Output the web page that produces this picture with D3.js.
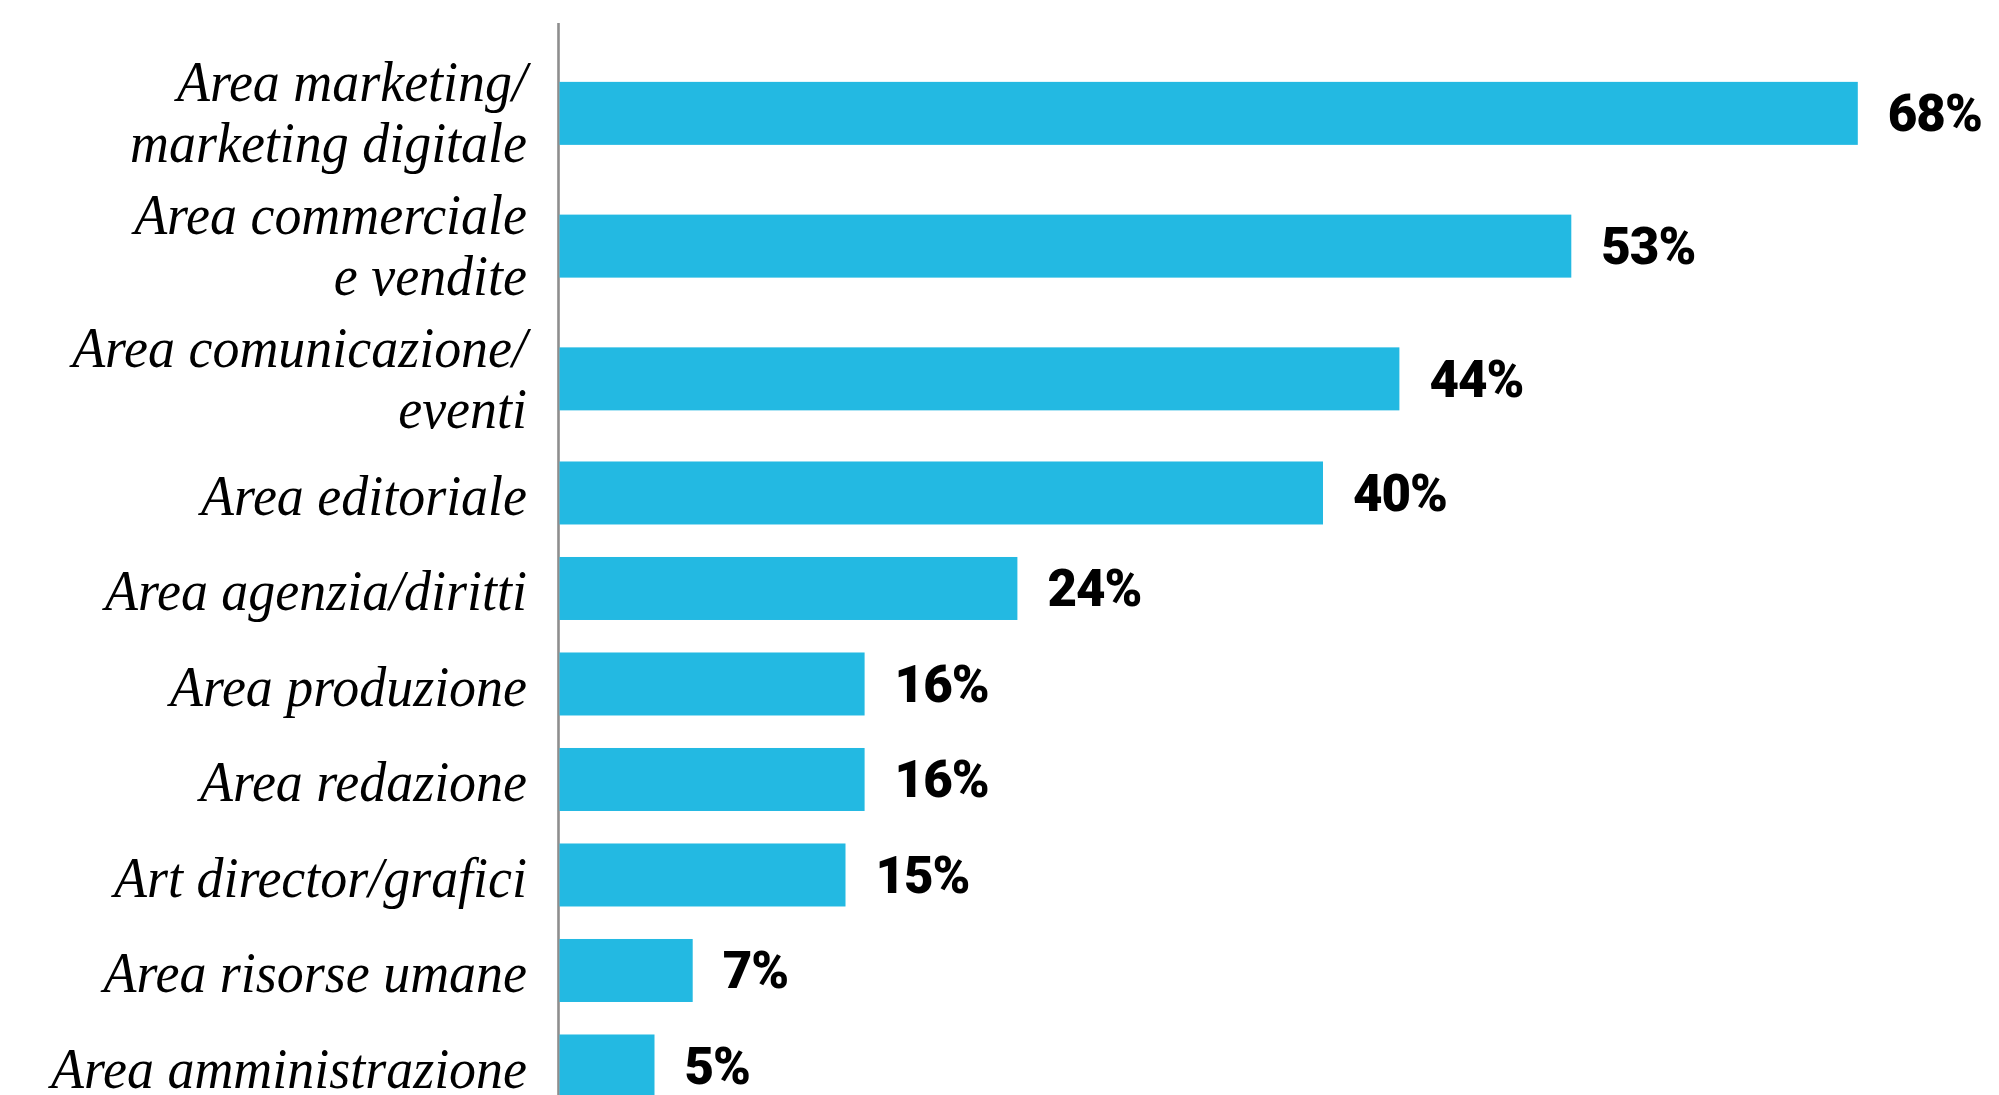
<!DOCTYPE html>
<html>
<head>
<meta charset="utf-8">
<script src="https://cdn.jsdelivr.net/npm/d3@7"></script>
<style>
  html, body { margin: 0; padding: 0; background: #ffffff; }
  svg { display: block; }
</style>
</head>
<body>
<svg id="chart" width="1999" height="1095"></svg>
<script>
// Categories (line breaks mark two-line labels) and percentage values
const categories = [
  "Area marketing/\nmarketing digitale",
  "Area commerciale\ne vendite",
  "Area comunicazione/\neventi",
  "Area editoriale",
  "Area agenzia/diritti",
  "Area produzione",
  "Area redazione",
  "Art director/grafici",
  "Area risorse umane",
  "Area amministrazione"
];
const values = [68, 53, 44, 40, 24, 16, 16, 15, 7, 5];
const valueLabels = values.map(v => v + "%");

const width = 1999, height = 1095;
const axisX = 559;
const barColor = "#23b9e2";
const barHeight = 63;
const lineGap = 61;

const svg = d3.select("#chart");

// Each row takes a slot whose size grows with the number of label lines
const rows = categories.map((c, i) => ({
  lines: c.split("\n"),
  value: values[i],
  label: valueLabels[i]
}));
const slotUnits = rows.map(r => r.lines.length > 1 ? 1.39 : 1);
let acc = 0;
rows.forEach((r, i) => {
  r.mid = acc + slotUnits[i] / 2;
  acc += slotUnits[i];
});

const y = d3.scaleLinear().domain([0, acc]).range([47, 47 + acc * 95.5]);
const x = d3.scaleLinear().domain([0, 68]).range([axisX, axisX + 68 * 19.1]);

// Vertical baseline axis
svg.append("line")
  .attr("x1", axisX - 0.5).attr("x2", axisX - 0.5)
  .attr("y1", 23).attr("y2", height)
  .attr("stroke", "#8e8e8e")
  .attr("stroke-width", 2.6);

const row = svg.selectAll("g.row")
  .data(rows)
  .join("g")
  .attr("class", "row");

// Bars
row.append("rect")
  .attr("x", x(0) + 0.5)
  .attr("y", d => y(d.mid) - barHeight / 2)
  .attr("width", d => x(d.value) - x(0) - 0.5)
  .attr("height", barHeight)
  .attr("fill", barColor);

// Value labels
row.append("text")
  .attr("x", d => x(d.value) + 30)
  .attr("y", d => y(d.mid) + 18)
  .attr("font-family", "Roboto, 'Liberation Sans', Arial, sans-serif")
  .attr("font-weight", 900)
  .attr("font-size", 51)
  .attr("letter-spacing", -1)
  .attr("fill", "#000")
  .text(d => d.label);

// Category labels, right-aligned against the axis
row.each(function(d) {
  const n = d.lines.length;
  const firstBaseline = y(d.mid) + (n > 1 ? -12 : 22);
  const g = d3.select(this).append("g");
  d.lines.forEach((line, k) => {
    g.append("text")
      .attr("transform", `translate(527, ${firstBaseline + k * lineGap}) scale(0.93, 1)`)
      .attr("text-anchor", "end")
      .attr("font-family", "'Liberation Serif', 'Times New Roman', serif")
      .attr("font-style", "italic")
      .attr("font-size", 58)
      .attr("fill", "#000")
      .text(line);
  });
});
</script>
</body>
</html>
